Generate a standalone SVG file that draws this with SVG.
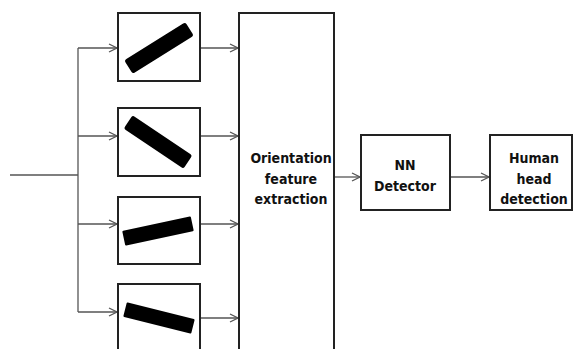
<svg xmlns="http://www.w3.org/2000/svg" width="576" height="349" viewBox="0 0 576 349">
<style>
.box{fill:#fff;stroke:#222;stroke-width:2}
.bar{fill:#000}
.ln{fill:none;stroke:#555;stroke-width:1.3}
.t{font-family:"DejaVu Sans Condensed","DejaVu Sans",Verdana,sans-serif;font-weight:bold;font-size:14px;fill:#111;text-anchor:middle}
</style>
<defs>
<marker id="ah" markerWidth="10" markerHeight="10" refX="9" refY="5" orient="auto" markerUnits="userSpaceOnUse">
<path d="M1,1 L9,5 L1,9" fill="none" stroke="#555" stroke-width="1.3"/>
</marker>
</defs>
<rect width="576" height="349" fill="#fff"/>
<g id="connectors">
<path class="ln" d="M10,175 H78"/>
<path class="ln" d="M78,48 V312"/>
<path class="ln" d="M78,48 H117" marker-end="url(#ah)"/>
<path class="ln" d="M78,136 H117" marker-end="url(#ah)"/>
<path class="ln" d="M78,224 H117" marker-end="url(#ah)"/>
<path class="ln" d="M78,312 H117" marker-end="url(#ah)"/>
<path class="ln" d="M200,48 H238" marker-end="url(#ah)"/>
<path class="ln" d="M200,136 H238" marker-end="url(#ah)"/>
<path class="ln" d="M200,224 H238" marker-end="url(#ah)"/>
<path class="ln" d="M200,318 H238" marker-end="url(#ah)"/>
<path class="ln" d="M334,177 H360" marker-end="url(#ah)"/>
<path class="ln" d="M450,177 H489" marker-end="url(#ah)"/>
</g>
<g id="filter1"><rect class="box" x="118" y="13" width="82" height="68"/><rect class="bar" x="-36" y="-8" width="72" height="16" rx="2.5" transform="translate(159,48) rotate(-32)"/></g>
<g id="filter2"><rect class="box" x="118" y="108" width="82" height="68"/><rect class="bar" x="-36" y="-8" width="72" height="16" rx="2.5" transform="translate(158,142) rotate(34)"/></g>
<g id="filter3"><rect class="box" x="118" y="197" width="82" height="67"/><rect class="bar" x="-35" y="-7.5" width="70" height="15" rx="1" transform="translate(158,231) rotate(-12)"/></g>
<g id="filter4"><rect class="box" x="118" y="284" width="82" height="80"/><rect class="bar" x="-35" y="-7.5" width="70" height="15" rx="1" transform="translate(159,318) rotate(14)"/></g>
<g id="feature"><rect class="box" x="239" y="13" width="95" height="350"/>
<text class="t" x="291" y="163">Orientation</text><text class="t" x="291" y="184">feature</text><text class="t" x="291" y="204">extraction</text></g>
<g id="nn"><rect class="box" x="361" y="135" width="89" height="75"/>
<text class="t" x="405" y="170">NN</text><text class="t" x="405" y="191">Detector</text></g>
<g id="human"><rect class="box" x="490" y="135" width="82" height="75"/>
<text class="t" x="534" y="163">Human</text><text class="t" x="534" y="184">head</text><text class="t" x="534" y="204">detection</text></g>
</svg>
